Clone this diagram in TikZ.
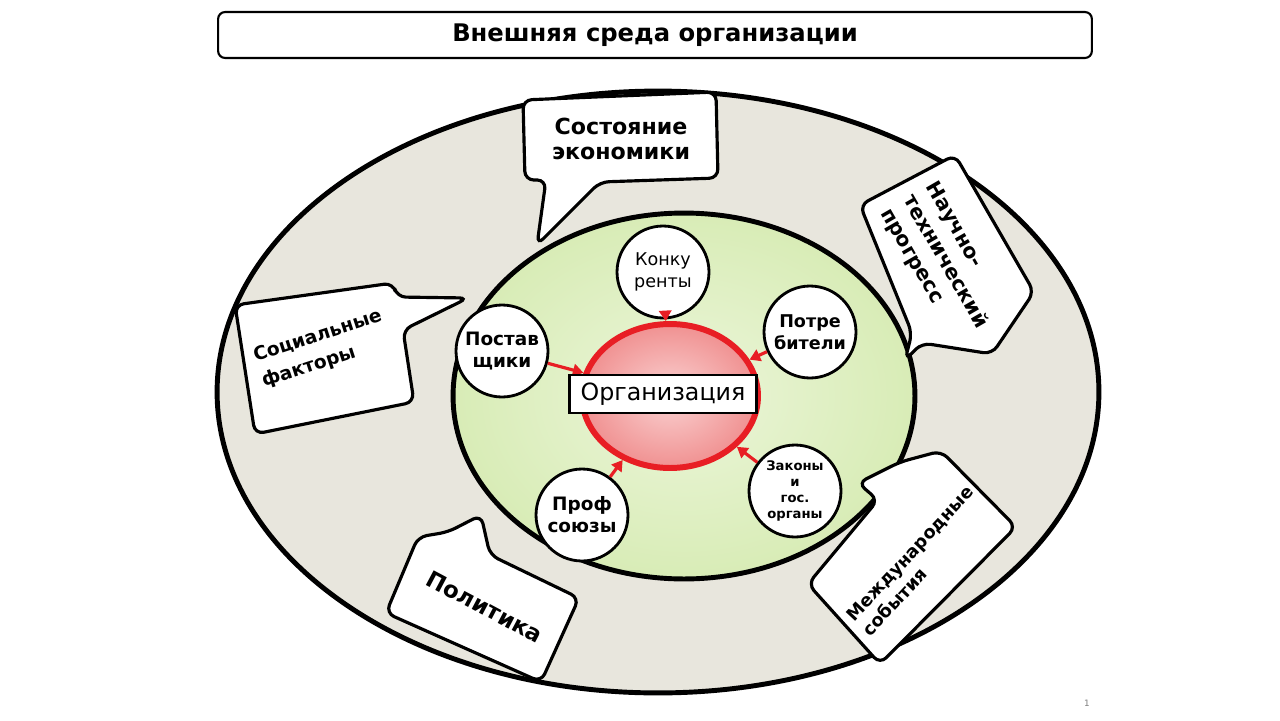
\documentclass[tikz,border=0pt]{standalone}
\usepackage{fontspec}
\setmainfont{DejaVu Sans}
\usetikzlibrary{shapes.geometric,arrows.meta}
\definecolor{envfill}{RGB}{232,230,221}
\definecolor{marketin}{RGB}{236,246,218}
\definecolor{marketout}{RGB}{216,236,182}
\definecolor{orgred}{RGB}{232,30,36}
\definecolor{orgin}{RGB}{250,210,210}
\definecolor{orgout}{RGB}{240,145,145}

\begin{document}
\begin{tikzpicture}[x=0.02cm,y=-0.02cm,
    factor/.style={circle,draw,line width=1.6pt,fill=white,minimum size=1.84cm,inner sep=0pt,align=center,font=\bfseries\fontsize{10}{12.5}\selectfont},
    bubble/.style={draw,line width=1.8pt,fill=white,rounded corners=5pt},
    bubbletext/.style={align=left,inner sep=0pt,font=\bfseries\fontsize{11.5}{14}\selectfont},
    influence/.style={draw=orgred,line width=1.8pt,-{Triangle[length=6pt,width=7pt]}}]
    \useasboundingbox (0,0) rectangle (1280,720);
    \path (655,35) node(title)[draw,line width=1.2pt,rounded corners=4pt,minimum width=17.48cm,minimum height=0.92cm,font=\bfseries\fontsize{13.8}{16}\selectfont] {Внешняя среда организации};
    \path (658,392) node(env)[ellipse,draw,line width=2.8pt,fill=envfill,minimum width=17.64cm,minimum height=12.04cm] {};
    \path (684,396) node(market)[ellipse,draw,line width=2.8pt,inner color=marketin,outer color=marketout,minimum width=9.24cm,minimum height=7.32cm] {};
    \draw[bubble] (523,100) -- (716,92) -- (718,178) -- (600,182) -- (537,245) -- (546,180) -- (525,180) -- cycle;
    \path (621,139) node(economy)[bubbletext,align=center,font=\bfseries\fontsize{12.6}{14.5}\selectfont] {Состояние\\экономики};
    \draw[bubble] (955,155) -- (1034,292) -- (992,354) -- (922,343) -- (905,360) -- (912,333) -- (860,205) -- cycle;
    \path (945,262) node(science)[bubbletext,rotate=-60,font=\bfseries\fontsize{11.6}{15}\selectfont] {Научно-\\технический\\прогресс};
    \draw[bubble] (235,305) -- (393,283) -- (397,297) -- (468,298) -- (403,330) -- (414,402) -- (255,434) -- cycle;
    \path (322,349) node(social)[bubbletext,rotate=18,font=\bfseries\fontsize{10.6}{15}\selectfont] {Социальные\\факторы};
    \draw[bubble] (418,537) -- (448,532) -- (481,515) -- (490,555) -- (579,598) -- (541,682) -- (386,613) -- cycle;
    \path (485,607) node(politics)[bubbletext,rotate=-28,font=\bfseries\fontsize{13}{15}\selectfont] {Политика};
    \draw[bubble] (941,451) -- (1016,527) -- (880,664) -- (808,584) -- (878,500) -- (858,483) -- (900,462) -- cycle;
    \path (918,561) node(world)[bubbletext,rotate=47,font=\bfseries\fontsize{10.1}{12.5}\selectfont] {Международные\\события};
    \path (670,396) node(org)[ellipse,draw=orgred,line width=3.4pt,inner color=orgin,outer color=orgout,minimum width=3.52cm,minimum height=2.88cm] {};
    \path (663,272) node(konk)[factor,font=\fontsize{10}{12.5}\selectfont] {Конку\\ренты};
    \path (810,332) node(potr)[factor] {Потре\\бители};
    \path (502,351) node(post)[factor,font=\bfseries\fontsize{10.5}{12.5}\selectfont] {Постав\\щики};
    \path (582,515) node(prof)[factor,font=\bfseries\fontsize{10.5}{12.5}\selectfont] {Проф\\союзы};
    \path (795,491) node(zak)[factor,font=\bfseries\fontsize{7.5}{9}\selectfont] {Законы\\и\\гос.\\органы};
    \path (konk) edge[influence] (org);
    \path (potr) edge[influence] (org);
    \path (post) edge[influence] (org);
    \path (prof) edge[influence] (org);
    \path (zak) edge[influence] (org);
    \path (663,394) node(orgname)[draw,line width=1.2pt,fill=white,minimum width=3.74cm,minimum height=0.76cm,inner sep=2pt,font=\fontsize{13.5}{15}\selectfont] {Организация};
    \path (1087,703) node(pagemark)[font=\fontsize{5}{5}\selectfont,text=gray] {1};
\end{tikzpicture}
\end{document}
